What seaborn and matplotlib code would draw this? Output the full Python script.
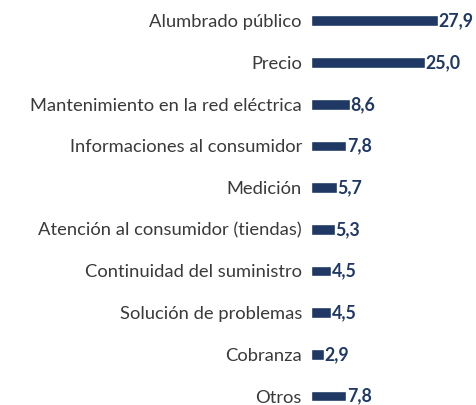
import pandas as pd
import matplotlib.pyplot as plt
import seaborn as sns

categorias = [
    "Alumbrado público",
    "Precio",
    "Mantenimiento en la red eléctrica",
    "Informaciones al consumidor",
    "Medición",
    "Atención al consumidor (tiendas)",
    "Continuidad del suministro",
    "Solución de problemas",
    "Cobranza",
    "Otros",
]
valores = [27.9, 25.0, 8.6, 7.8, 5.7, 5.3, 4.5, 4.5, 2.9, 7.8]

df = pd.DataFrame({"categoria": categorias, "valor": valores})

sns.set_style("white")
plt.rcParams["font.family"] = ["Lato", "DejaVu Sans"]

fig = plt.figure(figsize=(4.77, 4.05), dpi=100)
ax = fig.add_axes([311 / 477, 0.0067, 0.345, 0.988])

sns.barplot(data=df, x="valor", y="categoria", color="#1f3864", width=0.26,
            saturation=1, ax=ax)

etiquetas = [f"{v:.1f}".replace(".", ",") for v in valores]
ax.bar_label(ax.containers[0], labels=etiquetas, padding=0.3,
             color="#1f3864", fontweight="bold", fontsize=12.8)

ax.set_xlim(0, 36.2)
ax.set_ylim(9.15, -0.45)
ax.set_xlabel("")
ax.set_ylabel("")
ax.set_xticks([])
ax.tick_params(axis="y", length=0, pad=6.5, labelsize=13.2, labelcolor="#3a3a3a")
sns.despine(ax=ax, left=True, bottom=True)

fig.savefig("out.png", dpi=100)
